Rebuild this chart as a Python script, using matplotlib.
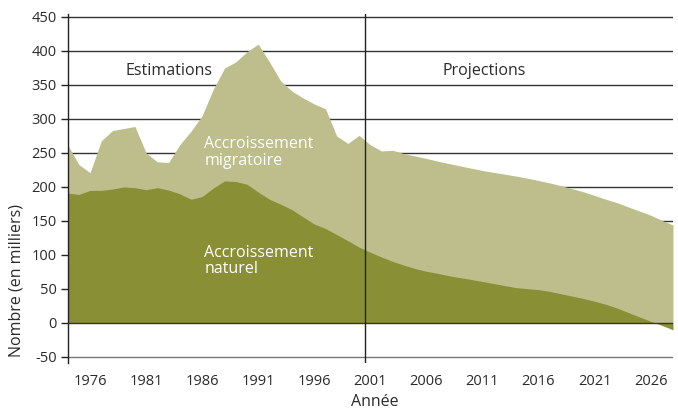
import numpy as np
import matplotlib
matplotlib.use("Agg")
import matplotlib.pyplot as plt

plt.rcParams['font.family'] = ['Open Sans', 'DejaVu Sans']
plt.rcParams['axes.unicode_minus'] = False

annees = list(range(1974, 2029))
accroissement_total = [
    262, 233, 221, 268, 283, 286, 289, 250, 237, 236,
    262, 282, 305, 344, 375, 384, 399, 410, 384, 356,
    341, 331, 322, 315, 275, 264, 276, 262, 253, 254,
    249, 245.5, 242, 238, 234.5, 231, 227.6, 224.3, 221.5, 218.8,
    216, 213, 209.5, 206, 202, 197.5, 193, 187.6, 182, 177,
    170.7, 164.7, 158.6, 151, 144,
]
accroissement_naturel = [
    191, 189, 195, 195, 197, 200, 199, 196, 199, 195.5,
    190, 182, 186, 198.5, 209, 208, 204, 192.5, 182, 174.7,
    166.7, 156, 145.5, 139, 130, 121, 111.5, 104, 97, 90.5,
    85, 80, 76, 73, 69.5, 66.6, 64, 61, 58, 55,
    52, 50.5, 49, 46.5, 43, 39.5, 36, 32, 27.5, 22,
    15.5, 9, 2.6, -3.5, -10,
]
yticks = list(range(-50, 451, 50))
xticks = list(range(1976, 2027, 5))
separation = 2000.5

c_light = '#BDBE8C'
c_dark = '#898F34'
c_text = '#2b2b2b'

fig = plt.figure(figsize=(6.78, 4.12), dpi=100)
ax = fig.add_axes([0.0998, 0.1187, 0.8928, 0.8483])

x = np.array(annees)
tot = np.array(accroissement_total)
nat = np.array(accroissement_naturel)

for v in yticks:
    if v == 0:
        continue
    ax.axhline(v, color='#777777' if v == -50 else '#333333', lw=1.0, zorder=0)

ax.fill_between(x, 0, tot, color=c_light, lw=0, zorder=1)
ax.fill_between(x, 0, nat, color=c_dark, lw=0, zorder=2)
ax.axhline(0, color='#333333', lw=1.0, zorder=3)
ax.axvline(separation, color='#222222', lw=1.0, zorder=3)

ax.set_xlim(1974, 2028)
ax.set_ylim(-59, 455)
ax.set_yticks(yticks)
ax.set_xticks(xticks)
ax.set_xticklabels([str(t) for t in xticks])

for s in ['top', 'right', 'bottom']:
    ax.spines[s].set_visible(False)
ax.spines['left'].set_color('#222222')
ax.spines['left'].set_linewidth(1.0)

ax.tick_params(axis='y', length=5, width=1.0, color='#222222', labelsize=10.5,
               labelcolor=c_text, pad=3)
ax.tick_params(axis='x', length=0, labelsize=10.5, labelcolor=c_text, pad=8)

ax.set_ylabel('Nombre (en milliers)', fontsize=11.5, color=c_text)
ax.yaxis.set_label_coords(-0.072, 0.235)
ax.set_xlabel('Année', fontsize=11.5, color=c_text)
ax.xaxis.set_label_coords(0.508, -0.088)

ax.text(1983.0, 371, 'Estimations', fontsize=11.5, color=c_text, ha='center', va='center')
ax.text(2011.2, 371, 'Projections', fontsize=11.5, color=c_text, ha='center', va='center')
ax.text(1986.2, 251, 'Accroissement\nmigratoire', fontsize=11.5, color='white',
        ha='left', va='center', linespacing=1.05)
ax.text(1986.2, 91, 'Accroissement\nnaturel', fontsize=11.5, color='white',
        ha='left', va='center', linespacing=1.05)

fig.savefig('out.png', dpi=100)
